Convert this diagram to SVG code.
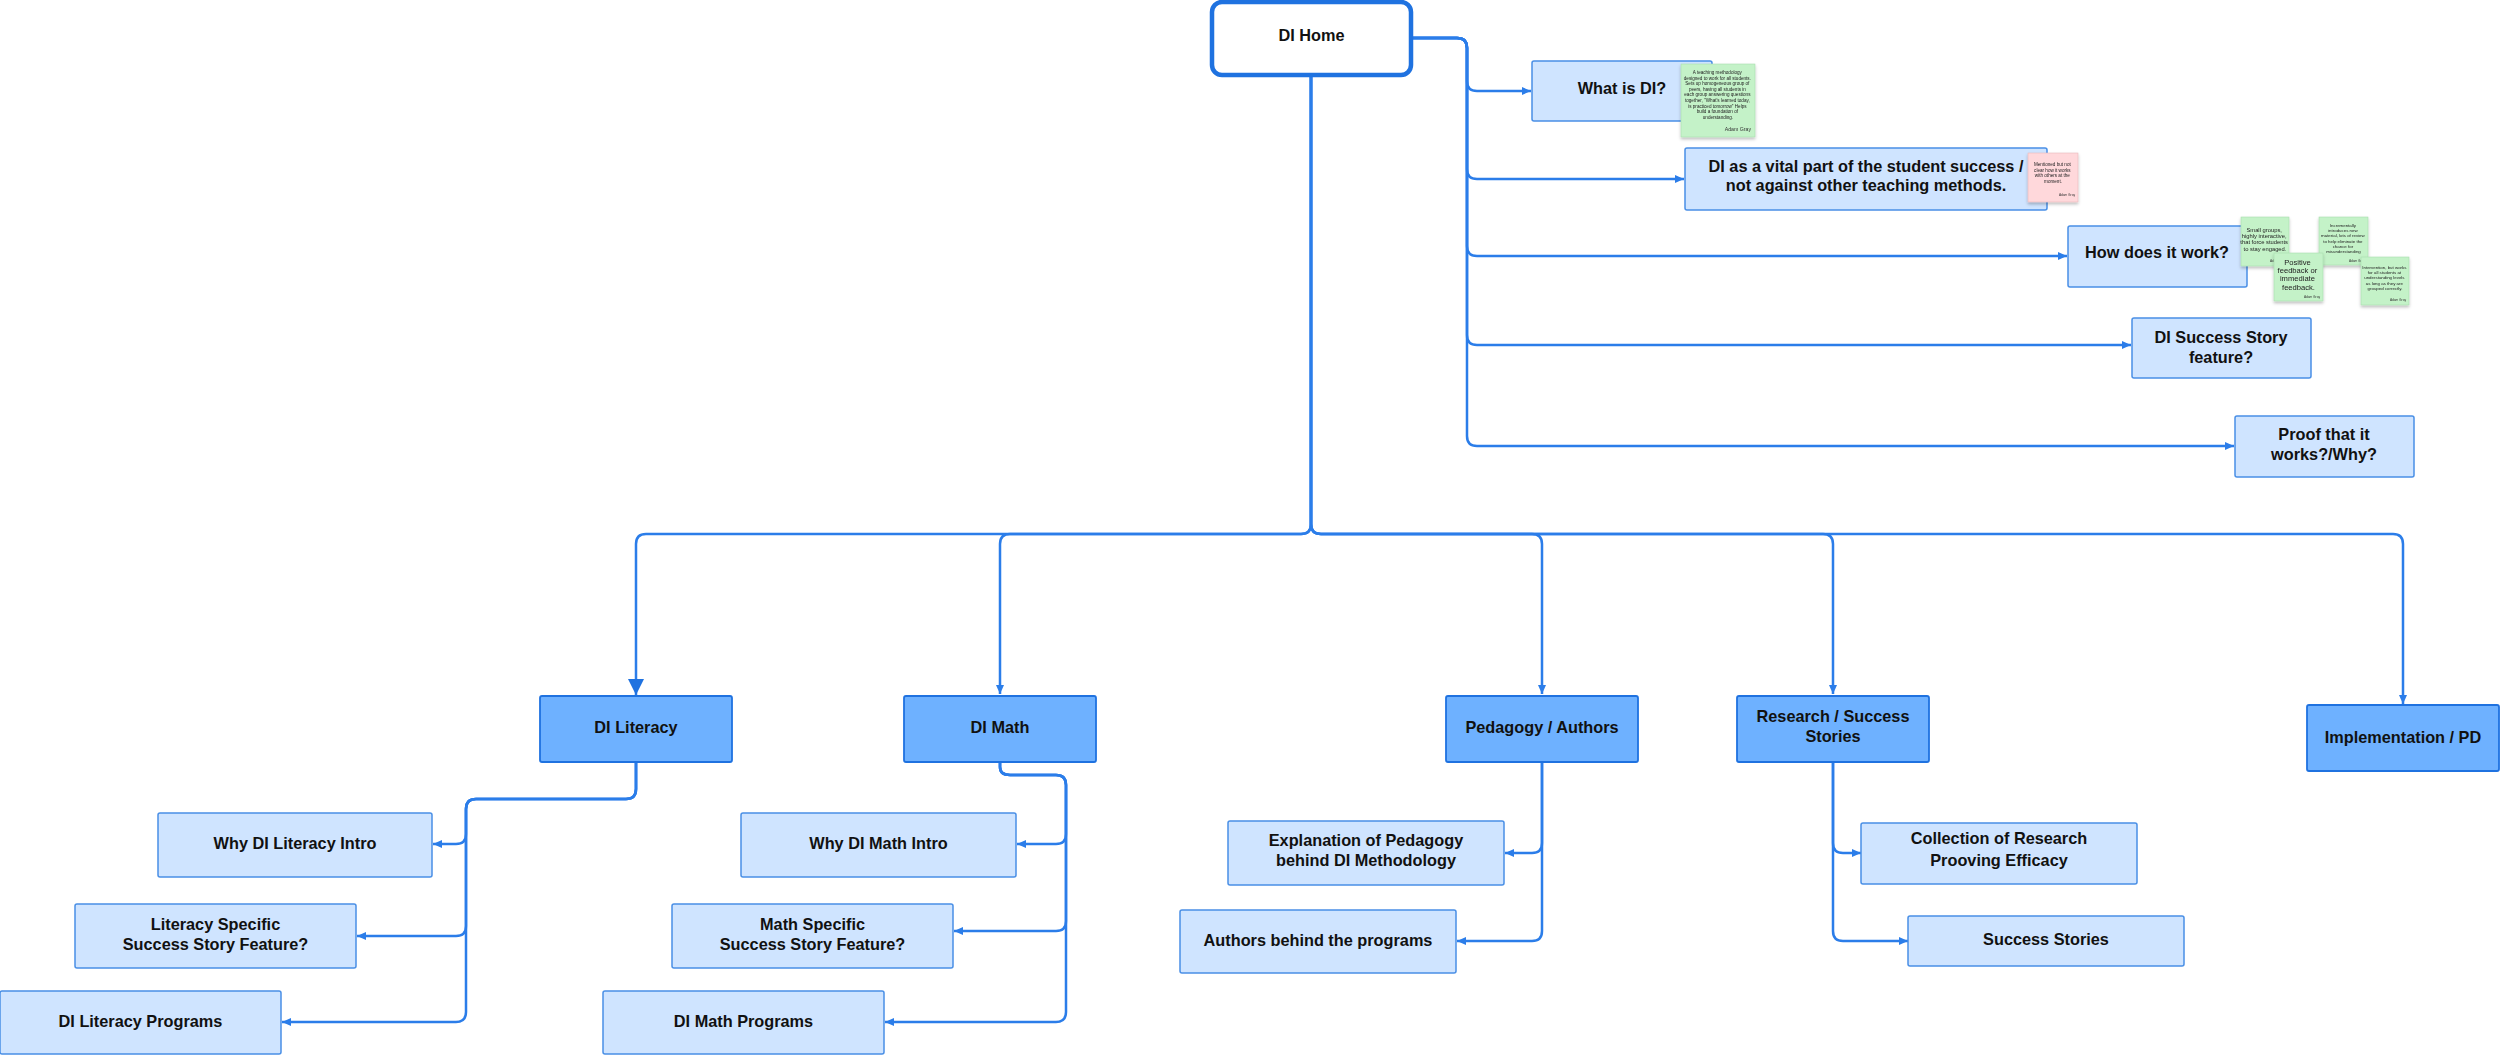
<svg xmlns="http://www.w3.org/2000/svg" width="2500" height="1055" viewBox="0 0 2500 1055">
<style>
  .lbl{font-family:"Liberation Sans",Arial,sans-serif;font-weight:bold;font-size:16.3px;fill:#111;text-anchor:middle;}
  .light{fill:#cfe4ff;stroke:#4a8fe6;stroke-width:1.5;}
  .dark{fill:#6eb1ff;stroke:#1f72e0;stroke-width:1.8;}
  .home{fill:#fff;stroke:#1f72e0;stroke-width:4.5;}
  .conn{fill:none;stroke:#2b7de9;stroke-width:2.5;}
  .sg{fill:#c4f2c8;stroke:#a9dcaf;stroke-width:0.6;}
  .sp{fill:#ffd8db;stroke:#e8b9bd;stroke-width:0.6;}
  .st{font-family:"Liberation Sans",Arial,sans-serif;fill:#222;text-anchor:middle;}
  .sa{font-family:"Liberation Sans",Arial,sans-serif;fill:#333;text-anchor:end;}
</style>
<defs>
  <marker id="arr" markerUnits="userSpaceOnUse" markerWidth="10" markerHeight="10" viewBox="0 0 10 10" refX="9" refY="5" orient="auto">
    <path d="M0,1 L9,5 L0,9 Z" fill="#2b7de9"/>
  </marker>
  <marker id="big" markerUnits="userSpaceOnUse" markerWidth="18" markerHeight="18" viewBox="0 0 18 18" refX="16" refY="9" orient="auto">
    <path d="M0,1 L16,9 L0,17 Z" fill="#1f72e0"/>
  </marker>
  <filter id="sh" x="-20%" y="-20%" width="140%" height="150%">
    <feDropShadow dx="0" dy="2" stdDeviation="1.5" flood-color="#000" flood-opacity="0.25"/>
  </filter>
</defs>
<rect width="2500" height="1055" fill="#fff"/>

<g id="connectors">
  <path class="conn" marker-end="url(#arr)" d="M1411,38 H1457 Q1467,38 1467,48 V81 Q1467,91 1477,91 H1531"/>
  <path class="conn" marker-end="url(#arr)" d="M1411,38 H1457 Q1467,38 1467,48 V169 Q1467,179 1477,179 H1684"/>
  <path class="conn" marker-end="url(#arr)" d="M1411,38 H1457 Q1467,38 1467,48 V246 Q1467,256 1477,256 H2067"/>
  <path class="conn" marker-end="url(#arr)" d="M1411,38 H1457 Q1467,38 1467,48 V335 Q1467,345 1477,345 H2131"/>
  <path class="conn" marker-end="url(#arr)" d="M1411,38 H1457 Q1467,38 1467,48 V436 Q1467,446 1477,446 H2234"/>

  <path class="conn" marker-end="url(#big)" d="M1311,75 V524 Q1311,534 1301,534 H646 Q636,534 636,544 V695"/>
  <path class="conn" marker-end="url(#arr)" d="M1311,75 V524 Q1311,534 1301,534 H1010 Q1000,534 1000,544 V694"/>
  <path class="conn" marker-end="url(#arr)" d="M1311,75 V524 Q1311,534 1321,534 H1532 Q1542,534 1542,544 V694"/>
  <path class="conn" marker-end="url(#arr)" d="M1311,75 V524 Q1311,534 1321,534 H1823 Q1833,534 1833,544 V694"/>
  <path class="conn" marker-end="url(#arr)" d="M1311,75 V524 Q1311,534 1321,534 H2393 Q2403,534 2403,544 V704"/>

  <path class="conn" marker-end="url(#arr)" d="M636,762 V789 Q636,799 626,799 H476 Q466,799 466,809 V834 Q466,844 456,844 H433"/>
  <path class="conn" marker-end="url(#arr)" d="M636,762 V789 Q636,799 626,799 H476 Q466,799 466,809 V926 Q466,936 456,936 H357"/>
  <path class="conn" marker-end="url(#arr)" d="M636,762 V789 Q636,799 626,799 H476 Q466,799 466,809 V1012 Q466,1022 456,1022 H282"/>

  <path class="conn" marker-end="url(#arr)" d="M1000,762 V767 Q1000,775 1010,775 H1056 Q1066,775 1066,785 V834 Q1066,844 1056,844 H1017"/>
  <path class="conn" marker-end="url(#arr)" d="M1000,762 V767 Q1000,775 1010,775 H1056 Q1066,775 1066,785 V921 Q1066,931 1056,931 H954"/>
  <path class="conn" marker-end="url(#arr)" d="M1000,762 V767 Q1000,775 1010,775 H1056 Q1066,775 1066,785 V1012 Q1066,1022 1056,1022 H885"/>

  <path class="conn" marker-end="url(#arr)" d="M1542,762 V843 Q1542,853 1532,853 H1505"/>
  <path class="conn" marker-end="url(#arr)" d="M1542,762 V931 Q1542,941 1532,941 H1457"/>

  <path class="conn" marker-end="url(#arr)" d="M1833,762 V843 Q1833,853 1843,853 H1861"/>
  <path class="conn" marker-end="url(#arr)" d="M1833,762 V931 Q1833,941 1843,941 H1908"/>
</g>

<g id="n-home">
  <rect class="home" x="1212" y="2" width="199" height="73" rx="10"/>
  <text class="lbl" x="1311.5" y="41">DI Home</text>
</g>

<g id="n-whatis">
  <rect class="light" x="1532" y="61" width="180" height="60" rx="2"/>
  <text class="lbl" x="1622" y="94">What is DI?</text>
</g>
<g id="n-vital">
  <rect class="light" x="1685" y="148" width="362" height="62" rx="2"/>
  <text class="lbl" x="1866" y="172">DI as a vital part of the student success /</text>
  <text class="lbl" x="1866" y="191">not against other teaching methods.</text>
</g>
<g id="n-how">
  <rect class="light" x="2068" y="226" width="179" height="61" rx="2"/>
  <text class="lbl" x="2157" y="258">How does it work?</text>
</g>
<g id="n-story">
  <rect class="light" x="2132" y="318" width="179" height="60" rx="2"/>
  <text class="lbl" x="2221" y="343">DI Success Story</text>
  <text class="lbl" x="2221" y="363">feature?</text>
</g>
<g id="n-proof">
  <rect class="light" x="2235" y="416" width="179" height="61" rx="2"/>
  <text class="lbl" x="2324" y="440">Proof that it</text>
  <text class="lbl" x="2324" y="460">works?/Why?</text>
</g>

<g id="s-whatis" filter="url(#sh)">
  <rect class="sg" x="1681" y="64" width="74" height="73"/>
  <text class="st" font-size="4.6" x="1718">
    <tspan x="1718" y="74">A teaching methodology</tspan>
    <tspan x="1718" y="79.6">designed to work for all students.</tspan>
    <tspan x="1718" y="85.2">Sets up homogeneous group of</tspan>
    <tspan x="1718" y="90.8">peers, having all students in</tspan>
    <tspan x="1718" y="96.4">each group answering questions</tspan>
    <tspan x="1718" y="102">together, "What's learned today,</tspan>
    <tspan x="1718" y="107.6">is practiced tomorrow" Helps</tspan>
    <tspan x="1718" y="113.2">build a foundation of</tspan>
    <tspan x="1718" y="118.8">understanding.</tspan>
  </text>
  <text class="sa" font-size="5.2" x="1751" y="131">Adam Gray</text>
</g>

<g id="s-vital" filter="url(#sh)">
  <rect class="sp" x="2028" y="153" width="50" height="49"/>
  <text class="st" font-size="4.6" x="2053">
    <tspan x="2053" y="166">Mentioned but not</tspan>
    <tspan x="2053" y="171.6">clear how it works</tspan>
    <tspan x="2053" y="177.2">with others at the</tspan>
    <tspan x="2053" y="182.8">moment.</tspan>
  </text>
  <text class="sa" font-size="3.2" x="2075" y="196">Adam Gray</text>
</g>

<g id="s-small" filter="url(#sh)">
  <rect class="sg" x="2241" y="217" width="48" height="49"/>
  <text class="st" font-size="5.8" x="2265">
    <tspan x="2265" y="232">Small groups,</tspan>
    <tspan x="2265" y="238.2">highly interactive,</tspan>
    <tspan x="2265" y="244.4">that force students</tspan>
    <tspan x="2265" y="250.6">to stay engaged.</tspan>
  </text>
  <text class="sa" font-size="3.2" x="2286" y="262">Adam Gray</text>
</g>

<g id="s-incr" filter="url(#sh)">
  <rect class="sg" x="2319" y="217" width="49" height="48"/>
  <text class="st" font-size="4.4" x="2343.5">
    <tspan x="2343.5" y="227">Incrementally</tspan>
    <tspan x="2343.5" y="232.2">introduces new</tspan>
    <tspan x="2343.5" y="237.4">material, lots of review</tspan>
    <tspan x="2343.5" y="242.6">to help eliminate the</tspan>
    <tspan x="2343.5" y="247.8">chance for</tspan>
    <tspan x="2343.5" y="253">misunderstanding</tspan>
  </text>
  <text class="sa" font-size="3.2" x="2365" y="262">Adam Gray</text>
</g>

<g id="s-positive" filter="url(#sh)">
  <rect class="sg" x="2274" y="253" width="49" height="48"/>
  <text class="st" font-size="7.6" x="2298.5">
    <tspan x="2298.5" y="265">Positive</tspan>
    <tspan x="2298.5" y="273.2">feedback or</tspan>
    <tspan x="2298.5" y="281.4">immediate</tspan>
    <tspan x="2298.5" y="289.6">feedback.</tspan>
  </text>
  <text class="sa" font-size="3.2" x="2320" y="298">Adam Gray</text>
</g>

<g id="s-interv" filter="url(#sh)">
  <rect class="sg" x="2361" y="257" width="48" height="48"/>
  <text class="st" font-size="4.4" x="2385">
    <tspan x="2385" y="269">Intervention, but works</tspan>
    <tspan x="2385" y="274.2">for all students at</tspan>
    <tspan x="2385" y="279.4">understanding levels</tspan>
    <tspan x="2385" y="284.6">as long as they are</tspan>
    <tspan x="2385" y="289.8">grouped correctly.</tspan>
  </text>
  <text class="sa" font-size="3.2" x="2406" y="301">Adam Gray</text>
</g>

<g id="n-literacy">
  <rect class="dark" x="540" y="696" width="192" height="66" rx="2"/>
  <text class="lbl" x="636" y="733">DI Literacy</text>
</g>
<g id="n-math">
  <rect class="dark" x="904" y="696" width="192" height="66" rx="2"/>
  <text class="lbl" x="1000" y="733">DI Math</text>
</g>
<g id="n-pedagogy">
  <rect class="dark" x="1446" y="696" width="192" height="66" rx="2"/>
  <text class="lbl" x="1542" y="733">Pedagogy / Authors</text>
</g>
<g id="n-research">
  <rect class="dark" x="1737" y="696" width="192" height="66" rx="2"/>
  <text class="lbl" x="1833" y="722">Research / Success</text>
  <text class="lbl" x="1833" y="742">Stories</text>
</g>
<g id="n-impl">
  <rect class="dark" x="2307" y="705" width="192" height="66" rx="2"/>
  <text class="lbl" x="2403" y="743">Implementation / PD</text>
</g>

<g id="n-why-lit">
  <rect class="light" x="158" y="813" width="274" height="64" rx="2"/>
  <text class="lbl" x="295" y="849">Why DI Literacy Intro</text>
</g>
<g id="n-lit-story">
  <rect class="light" x="75" y="904" width="281" height="64" rx="2"/>
  <text class="lbl" x="215.5" y="930">Literacy Specific</text>
  <text class="lbl" x="215.5" y="950">Success Story Feature?</text>
</g>
<g id="n-lit-prog">
  <rect class="light" x="0" y="991" width="281" height="63" rx="2"/>
  <text class="lbl" x="140.5" y="1027">DI Literacy Programs</text>
</g>

<g id="n-why-math">
  <rect class="light" x="741" y="813" width="275" height="64" rx="2"/>
  <text class="lbl" x="878.5" y="849">Why DI Math Intro</text>
</g>
<g id="n-math-story">
  <rect class="light" x="672" y="904" width="281" height="64" rx="2"/>
  <text class="lbl" x="812.5" y="930">Math Specific</text>
  <text class="lbl" x="812.5" y="950">Success Story Feature?</text>
</g>
<g id="n-math-prog">
  <rect class="light" x="603" y="991" width="281" height="63" rx="2"/>
  <text class="lbl" x="743.5" y="1027">DI Math Programs</text>
</g>

<g id="n-explain">
  <rect class="light" x="1228" y="821" width="276" height="64" rx="2"/>
  <text class="lbl" x="1366" y="846">Explanation of Pedagogy</text>
  <text class="lbl" x="1366" y="866">behind DI Methodology</text>
</g>
<g id="n-authors">
  <rect class="light" x="1180" y="910" width="276" height="63" rx="2"/>
  <text class="lbl" x="1318" y="946">Authors behind the programs</text>
</g>

<g id="n-collection">
  <rect class="light" x="1861" y="823" width="276" height="61" rx="2"/>
  <text class="lbl" x="1999" y="844">Collection of Research</text>
  <text class="lbl" x="1999" y="866">Prooving Efficacy</text>
</g>
<g id="n-success">
  <rect class="light" x="1908" y="916" width="276" height="50" rx="2"/>
  <text class="lbl" x="2046" y="945">Success Stories</text>
</g>
</svg>
